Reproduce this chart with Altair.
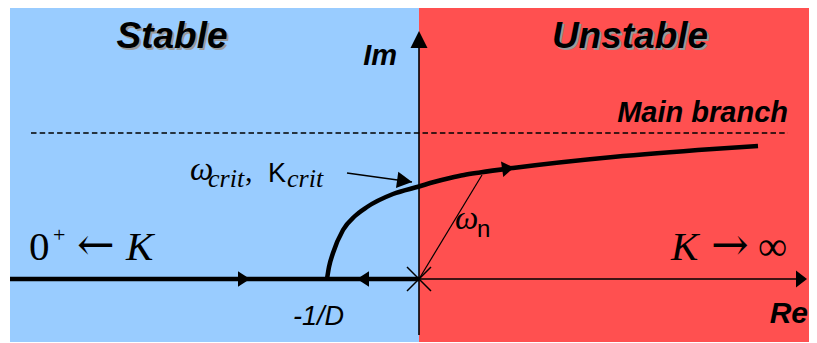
import altair as alt
import pandas as pd

# ---- coordinate frame of the schematic (Re, Im) ----
RE_DOMAIN = [-4.11, 3.90]
IM_DOMAIN = [-0.64, 2.71]

# ---- stability regions ----
region_names = ["Stable", "Unstable"]
region_re_lo = [-4.09, 0.0]
region_re_hi = [0.0, 3.90]
region_im_lo = [-0.63, -0.63]
region_im_hi = [2.71, 2.71]
region_colors = ["#99CCFF", "#FF5050"]

# ---- axes ----
re_axis_re = [-4.09, 3.86]
re_axis_im = [0.0, 0.0]
im_axis_re = [0.0, 0.0]
im_axis_im = [-0.56, 2.42]

# ---- root locus: real-axis part and main branch ----
real_locus_re = [-4.09, 0.0]
real_locus_im = [0.0, 0.0]
branch_re = [-0.92, -0.90, -0.86, -0.76, -0.64, -0.52, -0.26, 0.0, 0.15, 0.31, 0.45, 0.61, 0.94, 1.94, 2.94, 3.39]
branch_im = [0.0, 0.12, 0.26, 0.49, 0.63, 0.72, 0.85, 0.925, 0.97, 1.01, 1.04, 1.065, 1.11, 1.22, 1.30, 1.33]

# ---- main-branch asymptote (dashed) ----
asym_re = [-3.88, 3.69]
asym_im = [1.46, 1.46]

# ---- omega_n ray and omega_crit pointer ----
wn_re = [0.0, 0.63]
wn_im = [0.0, 1.04]
crit_re = [-0.72, -0.07]
crit_im = [1.06, 0.97]

# ---- arrow heads (tip positions) ----
head_right_re = [-1.69, 0.95]
head_right_im = [0.0, 1.115]
head_right_angle = [0, 351.5]
head_left_re = [-0.62]
head_left_im = [0.0]
crit_head_re = [-0.07]
crit_head_im = [0.97]
crit_head_angle = [8]
open_loop_pole_re = [0.0]
open_loop_pole_im = [0.0]

# ---- labels ----
label_text = ["Stable", "Unstable", "Im", "Main branch", "Re", "-1/D",
              "0", "+", "\u2190", "K",
              "K", "\u2192", "\u221e",
              "\u03c9", "crit", ",", "K", "crit",
              "\u03c9", "n"]
label_re = [-2.47, 2.11, -0.22, 3.69, 3.89, -1.26,
            -3.90, -3.66, -3.42, -2.93,
            2.52, 2.92, 3.39,
            -2.29, -2.11, -1.74, -1.51, -1.32,
            0.36, 0.58]
label_im = [2.31, 2.31, 2.14, 1.57, -0.44, -0.46,
            0.19, 0.37, 0.19, 0.19,
            0.19, 0.19, 0.19,
            0.99, 0.92, 0.98, 0.97, 0.92,
            0.50, 0.42]

SANS = "Liberation Sans"
SERIF = "Liberation Serif"
ARROWS = "DejaVu Serif"
label_style = [
    dict(font=SANS, fontSize=37, fontStyle="italic", fontWeight="bold", align="center", shadow=True),
    dict(font=SANS, fontSize=37, fontStyle="italic", fontWeight="bold", align="center", shadow=True),
    dict(font=SANS, fontSize=29, fontStyle="italic", fontWeight="bold", align="right"),
    dict(font=SANS, fontSize=29, fontStyle="italic", fontWeight="bold", align="right"),
    dict(font=SANS, fontSize=30, fontStyle="italic", fontWeight="bold", align="right"),
    dict(font=SANS, fontSize=27, fontStyle="italic", align="left"),
    dict(font=SERIF, fontSize=41, align="left"),
    dict(font=SERIF, fontSize=22, align="left"),
    dict(font=ARROWS, fontSize=45, align="left"),
    dict(font=SERIF, fontSize=41, fontStyle="italic", align="left"),
    dict(font=SERIF, fontSize=41, fontStyle="italic", align="left"),
    dict(font=ARROWS, fontSize=45, align="left"),
    dict(font=SERIF, fontSize=41, align="left"),
    dict(font=SERIF, fontSize=33, fontStyle="italic", align="left"),
    dict(font=SERIF, fontSize=26, fontStyle="italic", align="left"),
    dict(font=SERIF, fontSize=30, align="left"),
    dict(font=SANS, fontSize=27, align="left"),
    dict(font=SERIF, fontSize=26, fontStyle="italic", align="left"),
    dict(font=SERIF, fontSize=33, fontStyle="italic", align="left"),
    dict(font=SANS, fontSize=24, align="left"),
]

X = alt.X("re:Q", scale=alt.Scale(domain=RE_DOMAIN, nice=False, zero=False), axis=None)
Y = alt.Y("im:Q", scale=alt.Scale(domain=IM_DOMAIN, nice=False, zero=False), axis=None)


def line_layer(re, im, width, dash=None, interpolate="linear"):
    df = pd.DataFrame({"re": re, "im": im, "i": list(range(len(re)))})
    kw = dict(color="black", strokeWidth=width, interpolate=interpolate, strokeCap="butt")
    if dash:
        kw["strokeDash"] = dash
    return alt.Chart(df).mark_line(**kw).encode(x=X, y=Y, order="i:Q")


def head_layer(re, im, path, size, angle=None, filled=True, stroke_width=1.5):
    df = pd.DataFrame({"re": re, "im": im})
    if angle is None:
        angle = [0] * len(re)
    df["angle"] = angle
    return alt.Chart(df).mark_point(
        shape=path, size=size, filled=filled, color="black", opacity=1,
        strokeWidth=stroke_width,
    ).encode(x=X, y=Y, angle=alt.Angle("angle:Q", scale=None))


regions = pd.DataFrame({
    "name": region_names, "re_lo": region_re_lo, "re_hi": region_re_hi,
    "im_lo": region_im_lo, "im_hi": region_im_hi,
})
region_layer = alt.Chart(regions).mark_rect(strokeWidth=0).encode(
    x=alt.X("re_lo:Q", scale=alt.Scale(domain=RE_DOMAIN, nice=False, zero=False), axis=None),
    x2="re_hi:Q",
    y=alt.Y("im_lo:Q", scale=alt.Scale(domain=IM_DOMAIN, nice=False, zero=False), axis=None),
    y2="im_hi:Q",
    color=alt.Color("name:N", scale=alt.Scale(domain=region_names, range=region_colors), legend=None),
)

layers = [region_layer]
layers.append(line_layer(asym_re, asym_im, 1.3, dash=[5.5, 3.2]))
layers.append(line_layer(re_axis_re, re_axis_im, 1.6))
layers.append(line_layer(im_axis_re, im_axis_im, 1.6))
layers.append(line_layer(wn_re, wn_im, 1.2))
layers.append(line_layer(crit_re, crit_im, 1.5))
layers.append(line_layer(real_locus_re, real_locus_im, 4.5))
layers.append(line_layer(branch_re, branch_im, 4.5, interpolate="monotone"))

# arrow heads
layers.append(head_layer([re_axis_re[1] + 0.02], [0.0], "M0,0 L-1.1,-0.85 L-1.1,0.85 Z", 400))
layers.append(head_layer([0.0], [im_axis_im[1] + 0.06], "M0,0 L-0.85,1.7 L0.85,1.7 Z", 400))
layers.append(head_layer(head_right_re, head_right_im, "M0,0 L-1,-0.65 L-1,0.65 Z", 576, head_right_angle))
layers.append(head_layer(head_left_re, head_left_im, "M0,0 L1,-0.65 L1,0.65 Z", 576))
layers.append(head_layer(crit_head_re, crit_head_im, "M0,0 L-1,-0.55 L-1,0.55 Z", 900, crit_head_angle))
layers.append(head_layer(open_loop_pole_re, open_loop_pole_im, "M-1,-1 L1,1 M-1,1 L1,-1", 576,
                         filled=False, stroke_width=1.5))

# labels
for t, r, m, st in zip(label_text, label_re, label_im, label_style):
    st = dict(st)
    shadow = st.pop("shadow", False)
    df = pd.DataFrame({"re": [r], "im": [m], "t": [t]})
    if shadow:
        layers.append(alt.Chart(df).mark_text(baseline="alphabetic", color="#9a9a9a", dx=2, dy=2, **st)
                      .encode(x=X, y=Y, text="t:N"))
    layers.append(alt.Chart(df).mark_text(baseline="alphabetic", color="black", **st)
                  .encode(x=X, y=Y, text="t:N"))

chart = alt.layer(*layers).properties(
    width=801, height=335, padding=0, autosize="none", background="white"
).configure_view(strokeWidth=0)

chart.save("out.html", embed_options={"renderer": "svg", "actions": False})
